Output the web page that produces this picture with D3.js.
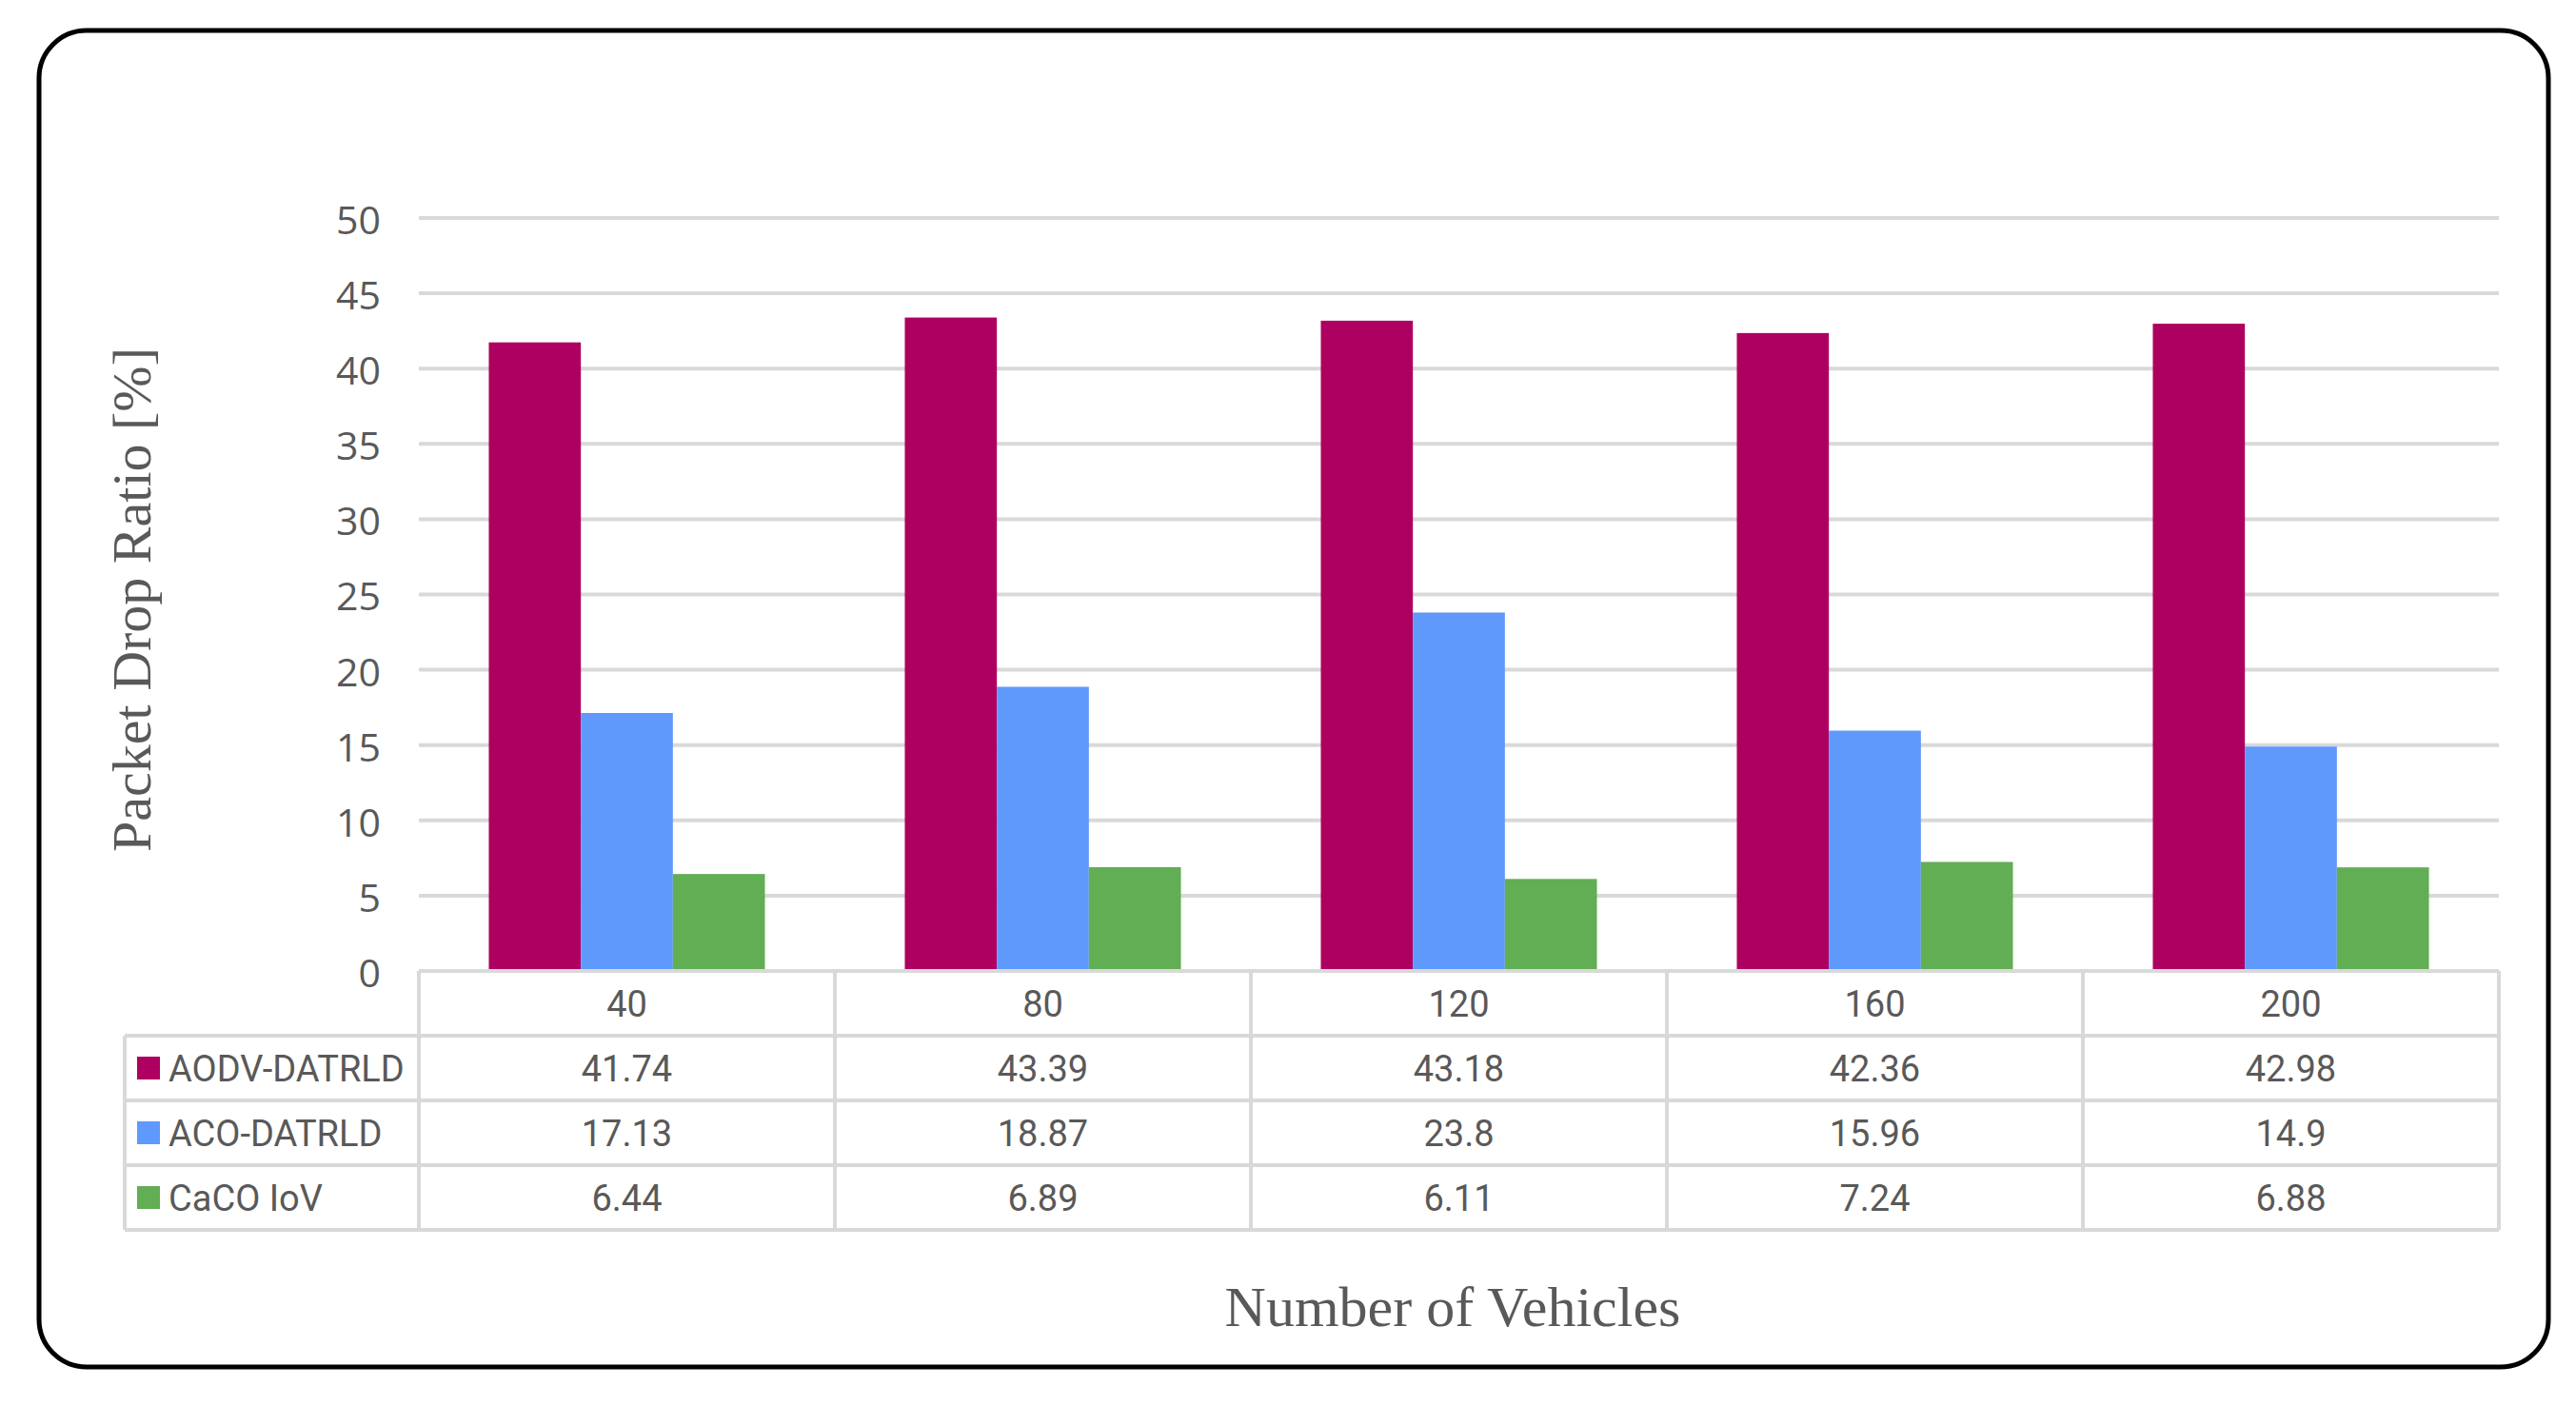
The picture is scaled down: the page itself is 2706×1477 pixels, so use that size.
<!DOCTYPE html>
<html>
<head>
<meta charset="utf-8">
<script src="https://cdnjs.cloudflare.com/ajax/libs/d3/7.8.5/d3.min.js"></script>
<style>
  html, body { margin: 0; padding: 0; background: #fff; }
  svg { display: block; }
</style>
</head>
<body>
<div id="chart"></div>
<script>
var categories = ["40", "80", "120", "160", "200"];
var seriesNames = ["AODV-DATRLD", "ACO-DATRLD", "CaCO IoV"];
var seriesColors = ["#ae0060", "#5f99fc", "#62ae55"];
var aodvValues = [41.74, 43.39, 43.18, 42.36, 42.98];
var acoValues = [17.13, 18.87, 23.8, 15.96, 14.9];
var cacoValues = [6.44, 6.89, 6.11, 7.24, 6.88];
var yTicks = [0, 5, 10, 15, 20, 25, 30, 35, 40, 45, 50];

var seriesValues = [aodvValues, acoValues, cacoValues];

var W = 2706, H = 1477;
var gridColor = "#d9d9d9", textColor = "#595959";

var svg = d3.select("#chart").append("svg")
  .attr("width", W).attr("height", H);

// rounded outer frame
svg.append("rect")
  .attr("x", 41).attr("y", 32)
  .attr("width", 2636).attr("height", 1404)
  .attr("rx", 50).attr("ry", 50)
  .attr("fill", "#fff").attr("stroke", "#000").attr("stroke-width", 5);

var plot = { left: 440, right: 2625, top: 229, bottom: 1020 };

var x0 = d3.scaleBand().domain(categories).range([plot.left, plot.right]);
var x1 = d3.scaleBand().domain(seriesNames).range([0, x0.bandwidth()]).paddingOuter(0.76);
var y = d3.scaleLinear().domain([0, 50]).range([plot.bottom, plot.top]);

// gridlines
svg.append("g").selectAll("line").data(yTicks.filter(function(d) { return d > 0; }))
  .enter().append("line")
  .attr("x1", plot.left).attr("x2", plot.right)
  .attr("y1", function(d) { return y(d); }).attr("y2", function(d) { return y(d); })
  .attr("stroke", gridColor).attr("stroke-width", 4);

// y axis labels
var yAxis = d3.axisLeft(y).tickValues(yTicks).tickSize(0).tickPadding(40);
var yg = svg.append("g").attr("transform", "translate(" + plot.left + ",0)").call(yAxis);
yg.select(".domain").remove();
yg.selectAll("text")
  .attr("fill", textColor)
  .attr("dy", "0.4em")
  .style("font-family", "'Open Sans', sans-serif")
  .style("font-size", "41px");

// bars
var groups = svg.append("g").selectAll("g.cat").data(categories)
  .enter().append("g")
  .attr("class", "cat")
  .attr("transform", function(d) { return "translate(" + x0(d) + ",0)"; });

groups.selectAll("rect").data(function(d, i) {
  return seriesNames.map(function(s, j) { return { name: s, value: seriesValues[j][i], color: seriesColors[j] }; });
}).enter().append("rect")
  .attr("x", function(d) { return x1(d.name); })
  .attr("width", x1.bandwidth())
  .attr("y", function(d) { return y(d.value); })
  .attr("height", function(d) { return y(0) - y(d.value); })
  .attr("fill", function(d) { return d.color; });

// data table under the axis
var rowH = 68;
var headerTop = plot.bottom, headerBottom = plot.bottom + rowH;
var legendLeft = 131;
var tableBottom = headerBottom + rowH * seriesNames.length;
var table = svg.append("g");

// horizontal lines
table.append("line")
  .attr("x1", plot.left).attr("x2", plot.right)
  .attr("y1", headerTop).attr("y2", headerTop)
  .attr("stroke", gridColor).attr("stroke-width", 4);
for (var r = 0; r <= seriesNames.length; r++) {
  table.append("line")
    .attr("x1", legendLeft).attr("x2", plot.right)
    .attr("y1", headerBottom + r * rowH).attr("y2", headerBottom + r * rowH)
    .attr("stroke", gridColor).attr("stroke-width", 4);
}
// vertical lines
var vx = categories.map(function(c) { return x0(c); }).concat([plot.right]);
table.selectAll("line.v").data(vx).enter().append("line")
  .attr("class", "v")
  .attr("x1", function(d) { return d; }).attr("x2", function(d) { return d; })
  .attr("y1", headerTop).attr("y2", tableBottom)
  .attr("stroke", gridColor).attr("stroke-width", 4);
table.append("line")
  .attr("x1", legendLeft).attr("x2", legendLeft)
  .attr("y1", headerBottom).attr("y2", tableBottom)
  .attr("stroke", gridColor).attr("stroke-width", 4);

var tableFont = "'Roboto', sans-serif";
var tableSize = "38px";

// category header
table.selectAll("text.cat").data(categories).enter().append("text")
  .attr("x", function(d) { return x0(d) + x0.bandwidth() / 2; })
  .attr("y", headerTop + rowH / 2)
  .attr("dy", "0.36em")
  .attr("text-anchor", "middle")
  .attr("fill", textColor)
  .style("font-family", tableFont).style("font-size", tableSize)
  .text(function(d) { return d; });

// series rows
seriesNames.forEach(function(s, j) {
  var cy = headerBottom + j * rowH + rowH / 2;
  table.append("rect")
    .attr("x", 144).attr("y", cy - 12)
    .attr("width", 24).attr("height", 24)
    .attr("fill", seriesColors[j]);
  table.append("text")
    .attr("x", 177).attr("y", cy).attr("dy", "0.36em")
    .attr("fill", textColor)
    .style("font-family", tableFont).style("font-size", tableSize)
    .text(s);
  table.selectAll("text.v" + j).data(seriesValues[j]).enter().append("text")
    .attr("x", function(d, i) { return x0(categories[i]) + x0.bandwidth() / 2; })
    .attr("y", cy).attr("dy", "0.36em")
    .attr("text-anchor", "middle")
    .attr("fill", textColor)
    .style("font-family", tableFont).style("font-size", tableSize)
    .text(function(d) { return d; });
});

// axis titles
svg.append("text")
  .attr("transform", "translate(158,630) rotate(-90)")
  .attr("text-anchor", "middle")
  .attr("fill", textColor)
  .style("font-family", "'Liberation Serif', serif").style("font-size", "58px")
  .text("Packet Drop Ratio [%]");

svg.append("text")
  .attr("x", 1526).attr("y", 1393)
  .attr("text-anchor", "middle")
  .attr("fill", textColor)
  .style("font-family", "'Liberation Serif', serif").style("font-size", "60px")
  .text("Number of Vehicles");
</script>
</body>
</html>
